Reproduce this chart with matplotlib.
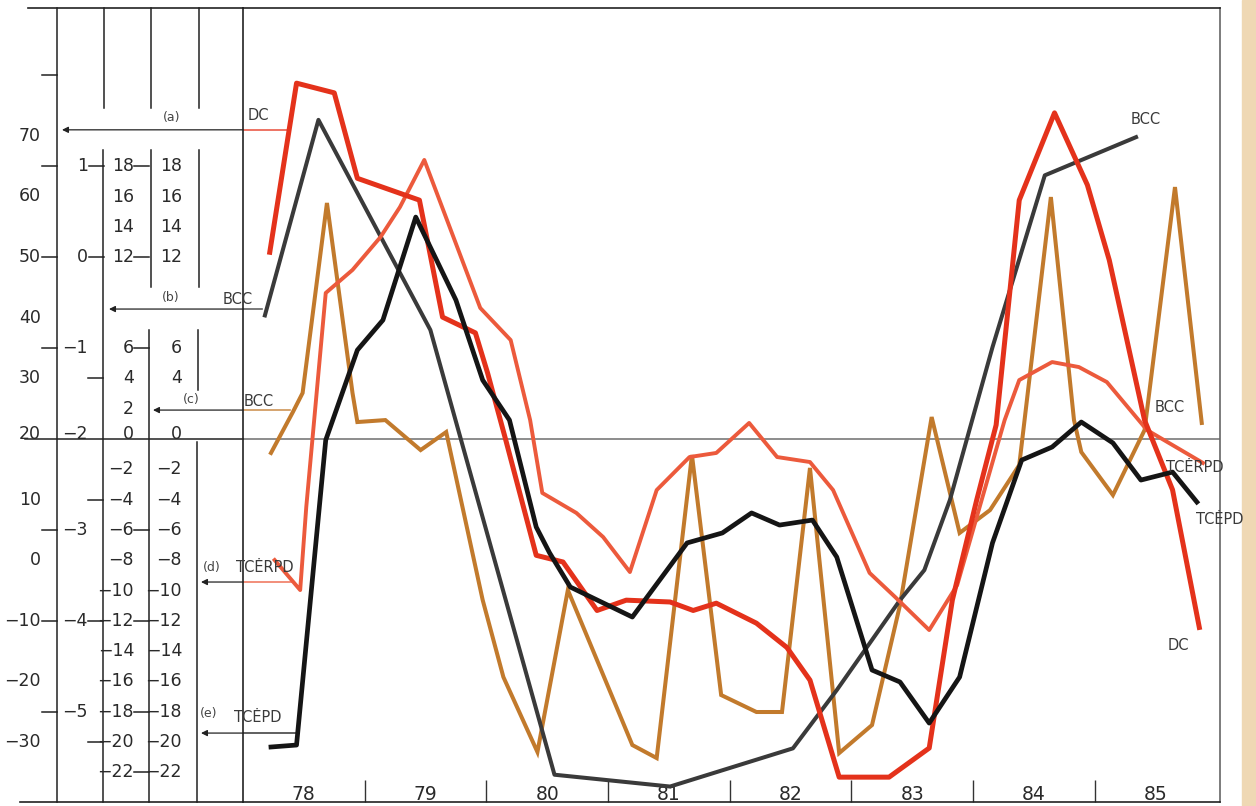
import matplotlib
matplotlib.use("Agg")
import matplotlib.pyplot as plt
from matplotlib import transforms
from matplotlib.lines import Line2D
from matplotlib.patches import Rectangle

plt.rcParams['font.family'] = ['DejaVu Sans']

W, H = 1256, 806

# --- data: decimal years and values, each series on its own scale ---
# (a) DC, left scale A
dc_x = [78.22, 78.44, 78.75, 78.94, 79.45, 79.64, 79.91, 80.01, 80.16, 80.41,
        80.63, 80.91, 81.15, 81.51, 81.70, 81.89, 82.22, 82.47, 82.66, 82.90,
        83.31, 83.64, 83.83, 84.03, 84.19, 84.38, 84.67, 84.94, 85.12, 85.41,
        85.64, 85.86]
dc_y = [50.8, 78.7, 77.1, 63.0, 59.4, 40.1, 37.5, 30.9, 19.8, 0.8,
        -0.3, -8.3, -6.6, -6.9, -8.3, -7.1, -10.4, -14.4, -19.8, -35.8,
        -35.8, -31.0, -6.6, 9.9, 22.3, 59.4, 73.8, 61.9, 49.5, 23.1,
        11.6, -11.1]

# (b) BCC, scale B
bcc_b_x = [78.18, 78.62, 79.54, 80.56, 81.51, 82.52, 82.88, 83.40, 83.60, 83.81,
           84.16, 84.59, 85.34]
bcc_b_y = [-0.64, 1.51, -0.80, -5.69, -5.82, -5.40, -4.76, -3.77, -3.44, -2.67,
           -0.99, 0.90, 1.32]

# (c) BCC, scale C
bcc_c_x = [78.23, 78.41, 78.49, 78.69, 78.90, 78.94, 79.17, 79.46, 79.67, 79.97,
           80.14, 80.42, 80.67, 81.20, 81.40, 81.69, 81.93, 82.22, 82.43, 82.66,
           82.90, 83.17, 83.40, 83.66, 83.89, 84.14, 84.38, 84.64, 84.83, 84.89,
           85.15, 85.41, 85.66, 85.88]
bcc_c_y = [-0.92, 1.78, 3.04, 15.58, 3.04, 1.12, 1.25, -0.73, 0.46, -10.63,
           -15.71, -20.66, -9.97, -20.20, -21.06, -1.06, -16.90, -18.02, -18.02, -1.91,
           -20.73, -18.88, -10.96, 1.45, -6.20, -4.69, -1.72, 15.97, 1.25, -0.86,
           -3.70, 0.59, 16.63, 1.06]

# (d) TCĖRPD, scale D (same as C)
tcerpd_x = [78.26, 78.47, 78.52, 78.68, 78.90, 79.13, 79.29, 79.49, 79.95, 80.20,
            80.36, 80.46, 80.74, 80.96, 81.18, 81.40, 81.67, 81.89, 82.16, 82.39,
            82.66, 82.85, 83.15, 83.36, 83.64, 83.87, 84.26, 84.38, 84.65, 84.87,
            85.10, 85.43, 85.89]
tcerpd_y = [-7.99, -9.97, -4.49, 9.64, 11.16, 13.33, 15.31, 18.42, 8.65, 6.53,
            1.25, -3.56, -4.88, -6.47, -8.78, -3.37, -1.19, -0.92, 1.06, -1.19,
            -1.52, -3.37, -8.84, -10.43, -12.61, -9.64, 1.25, 3.89, 5.08, 4.75,
            3.76, 0.59, -1.58]

# (e) TCĖPD, scale D
tcepd_x = [78.23, 78.44, 78.68, 78.94, 79.15, 79.42, 79.75, 79.97, 80.19, 80.41,
           80.52, 80.69, 81.20, 81.65, 81.94, 82.18, 82.41, 82.68, 82.88, 83.17,
           83.40, 83.64, 83.89, 84.16, 84.40, 84.65, 84.89, 85.15, 85.38, 85.64,
           85.84]
tcepd_y = [-20.33, -20.20, -0.07, 5.87, 7.85, 14.65, 9.17, 3.89, 1.25, -5.81,
           -7.52, -9.77, -11.75, -6.86, -6.20, -4.88, -5.68, -5.35, -7.79, -15.25,
           -16.04, -18.75, -15.71, -6.86, -1.39, -0.53, 1.12, -0.26, -2.71, -2.18,
           -4.16]

year_labels = ['78', '79', '80', '81', '82', '83', '84', '85']

# scale columns on the left
scale_a_ticks = [70, 60, 50, 40, 30, 20, 10, 0, -10, -20, -30]
scale_b_ticks = [1, 0, -1, -2, -3, -4, -5]
scale_c_ticks = [18, 16, 14, 12, 6, 4, 2, 0, -2, -4, -6, -8, -10, -12, -14, -16, -18, -20, -22]
scale_d_ticks = [18, 16, 14, 12, 6, 4, 0, -2, -4, -6, -8, -10, -12, -14, -16, -18, -20, -22]

# limits chosen so that the scales line up as in the original
lim_a = (-39.9, 91.1)
lim_b = (-5.99, 2.74)
lim_cd = (-23.96, 28.45)
year_lim = (78, 86.03)

C_DC = '#e4321b'
C_BCCB = '#3a3a3a'
C_BCCC = '#c27a2c'
C_TCERPD = '#ec5a3c'
C_TCEPD = '#151515'
INK = '#2a2a2a'


def fx(px):
    return px / W


def fy(py):
    return 1 - py / H


fig = plt.figure(figsize=(W / 100, H / 100), dpi=100)
fig.patch.set_facecolor('white')

ax = fig.add_axes([fx(243), fy(802), fx(1220) - fx(243), fy(8) - fy(802)])
ax_b = ax.twinx()
ax_c = ax.twinx()
for a, lim in ((ax, lim_a), (ax_b, lim_b), (ax_c, lim_cd)):
    a.set_xlim(*year_lim)
    a.set_ylim(*lim)
for a in (ax_b, ax_c):
    a.axis('off')
ax.set_autoscale_on(False)

# zero line of scales C/D
ax.plot(year_lim, [0, 0], transform=ax_c.transData, color='#8c8c8c', lw=1.4, zorder=1)

ax.plot(bcc_c_x, bcc_c_y, transform=ax_c.transData, color=C_BCCC, lw=2.9, zorder=2,
        solid_joinstyle='miter')
ax.plot(bcc_b_x, bcc_b_y, transform=ax_b.transData, color=C_BCCB, lw=2.9, zorder=3)
ax.plot(tcerpd_x, tcerpd_y, transform=ax_c.transData, color=C_TCERPD, lw=2.8, zorder=4)
ax.plot(dc_x, dc_y, color=C_DC, lw=3.6, zorder=5)
ax.plot(tcepd_x, tcepd_y, transform=ax_c.transData, color=C_TCEPD, lw=3.4, zorder=6)

# frame
for side in ('left', 'top', 'bottom'):
    ax.spines[side].set_color('#222222')
    ax.spines[side].set_linewidth(1.2)
ax.spines['right'].set_color('#666666')
ax.spines['right'].set_linewidth(1.2)

ax.set_yticks([])
ax.set_xticks(range(79, 86))
ax.set_xticklabels([])
ax.tick_params(axis='x', which='major', direction='in', length=16, width=1, color='#333333')
ax.set_xticks([y + 0.5 for y in range(78, 86)], labels=year_labels, minor=True)
ax.tick_params(axis='x', which='minor', length=0, pad=-12, labelsize=13.5, labelcolor=INK)

# --- left panel with the scales ---
bl_a = transforms.blended_transform_factory(fig.transFigure, ax.transData)
bl_b = transforms.blended_transform_factory(fig.transFigure, ax_b.transData)
bl_c = transforms.blended_transform_factory(fig.transFigure, ax_c.transData)


def fig_line(x0, y0, x1, y1, color='#222222', lw=1.1):
    fig.add_artist(Line2D([fx(x0), fx(x1)], [fy(y0), fy(y1)],
                          transform=fig.transFigure, color=color, lw=lw))


fig_line(28, 8, 243, 8, lw=1.2)
fig_line(20, 802, 243, 802, lw=1.2)
fig.add_artist(Line2D([fx(25), fx(243)], [0, 0], transform=bl_c, color='#222222', lw=1.1))

col_segments = [(57, 8, 802), (104, 8, 108), (103, 150, 802), (151, 8, 108), (151, 150, 287),
                (149, 330, 802), (199, 8, 108), (199, 150, 287), (198, 330, 390), (197, 442, 802)]
for x, y0, y1 in col_segments:
    fig_line(x, y0, x, y1)


def tick(trans, value, x0, x1):
    fig.add_artist(Line2D([fx(x0), fx(x1)], [value, value], transform=trans,
                          color='#222222', lw=1.1))


for v in [2, 1, 0, -1, -3, -4, -5]:
    tick(bl_b, v, 42, 57)
for v in [1, 0]:
    tick(bl_b, v, 89, 104)
for v in [30, 10, -10, -30]:
    tick(bl_a, v, 88, 103)
for v in [18, 12, 6, -6, -12, -18, -22]:
    tick(bl_c, v, 134, 149)


def lab(v):
    return str(v).replace('-', '\u2212')


def scale_labels(trans, values, xr, base_value):
    for v in values:
        va = 'baseline' if v == base_value else 'center'
        fig.text(fx(xr), v, lab(v), transform=trans, ha='right', va=va,
                 fontsize=12.5, color=INK)


scale_labels(bl_a, scale_a_ticks, 41, 20)
scale_labels(bl_b, scale_b_ticks, 88, -2)
scale_labels(bl_c, scale_c_ticks, 134, 0)
scale_labels(bl_c, scale_d_ticks, 182, 0)

# arrows linking each curve to its scale
arrows = [
    (ax.transData, bl_a, 71.0, 78.37, 60, C_DC),
    (ax_b.transData, bl_b, -0.57, 78.16, 107, C_BCCB),
    (ax_c.transData, bl_c, 1.91, 78.39, 151, C_BCCC),
    (ax_c.transData, bl_c, -9.44, 78.40, 199, C_TCERPD),
    (ax_c.transData, bl_c, -19.41, 78.45, 199, C_TCEPD),
]
for dtrans, btrans, yv, xs, target, col in arrows:
    ax.plot([78.0, xs], [yv, yv], transform=dtrans, color=col, lw=1.2, zorder=2, alpha=0.8)
    ax.annotate('', xy=(fx(target + 2), yv), xycoords=btrans,
                xytext=(fx(243), yv), textcoords=btrans,
                arrowprops=dict(arrowstyle='-|>', color='#222222', lw=0.9,
                                mutation_scale=9, shrinkA=0, shrinkB=0),
                annotation_clip=False)

small = dict(fontsize=9, color='#444444', ha='center', va='center')
name = dict(fontsize=10.5, color='#3a3a3a', ha='left', va='center')
fig.text(fx(172), fy(117), '(a)', **small)
fig.text(fx(248), fy(115), 'DC', **name)
fig.text(fx(171), fy(297), '(b)', **small)
fig.text(fx(223), fy(299), 'BCC', **name)
fig.text(fx(191), fy(400), '(c)', **small)
fig.text(fx(244), fy(401), 'BCC', **name)
fig.text(fx(212), fy(567), '(d)', **small)
fig.text(fx(236), fy(568), 'TCĖRPD', **name)
fig.text(fx(209), fy(714), '(e)', **small)
fig.text(fx(234), fy(718), 'TCĖPD', **name)

# labels at the right end of the curves
fig.text(fx(1131), fy(119), 'BCC', **name)
fig.text(fx(1155), fy(408), 'BCC', **name)
fig.text(fx(1166), fy(467), 'TCĖRPD', **name)
fig.text(fx(1196), fy(520), 'TCĖPD', **name)
fig.text(fx(1168), fy(646), 'DC', **name)

# page edge
fig.add_artist(Rectangle((fx(1242), 0), fx(1256) - fx(1242), 1, transform=fig.transFigure,
                         color='#efd8b4', zorder=0))

fig.savefig('out.png', dpi=100)
